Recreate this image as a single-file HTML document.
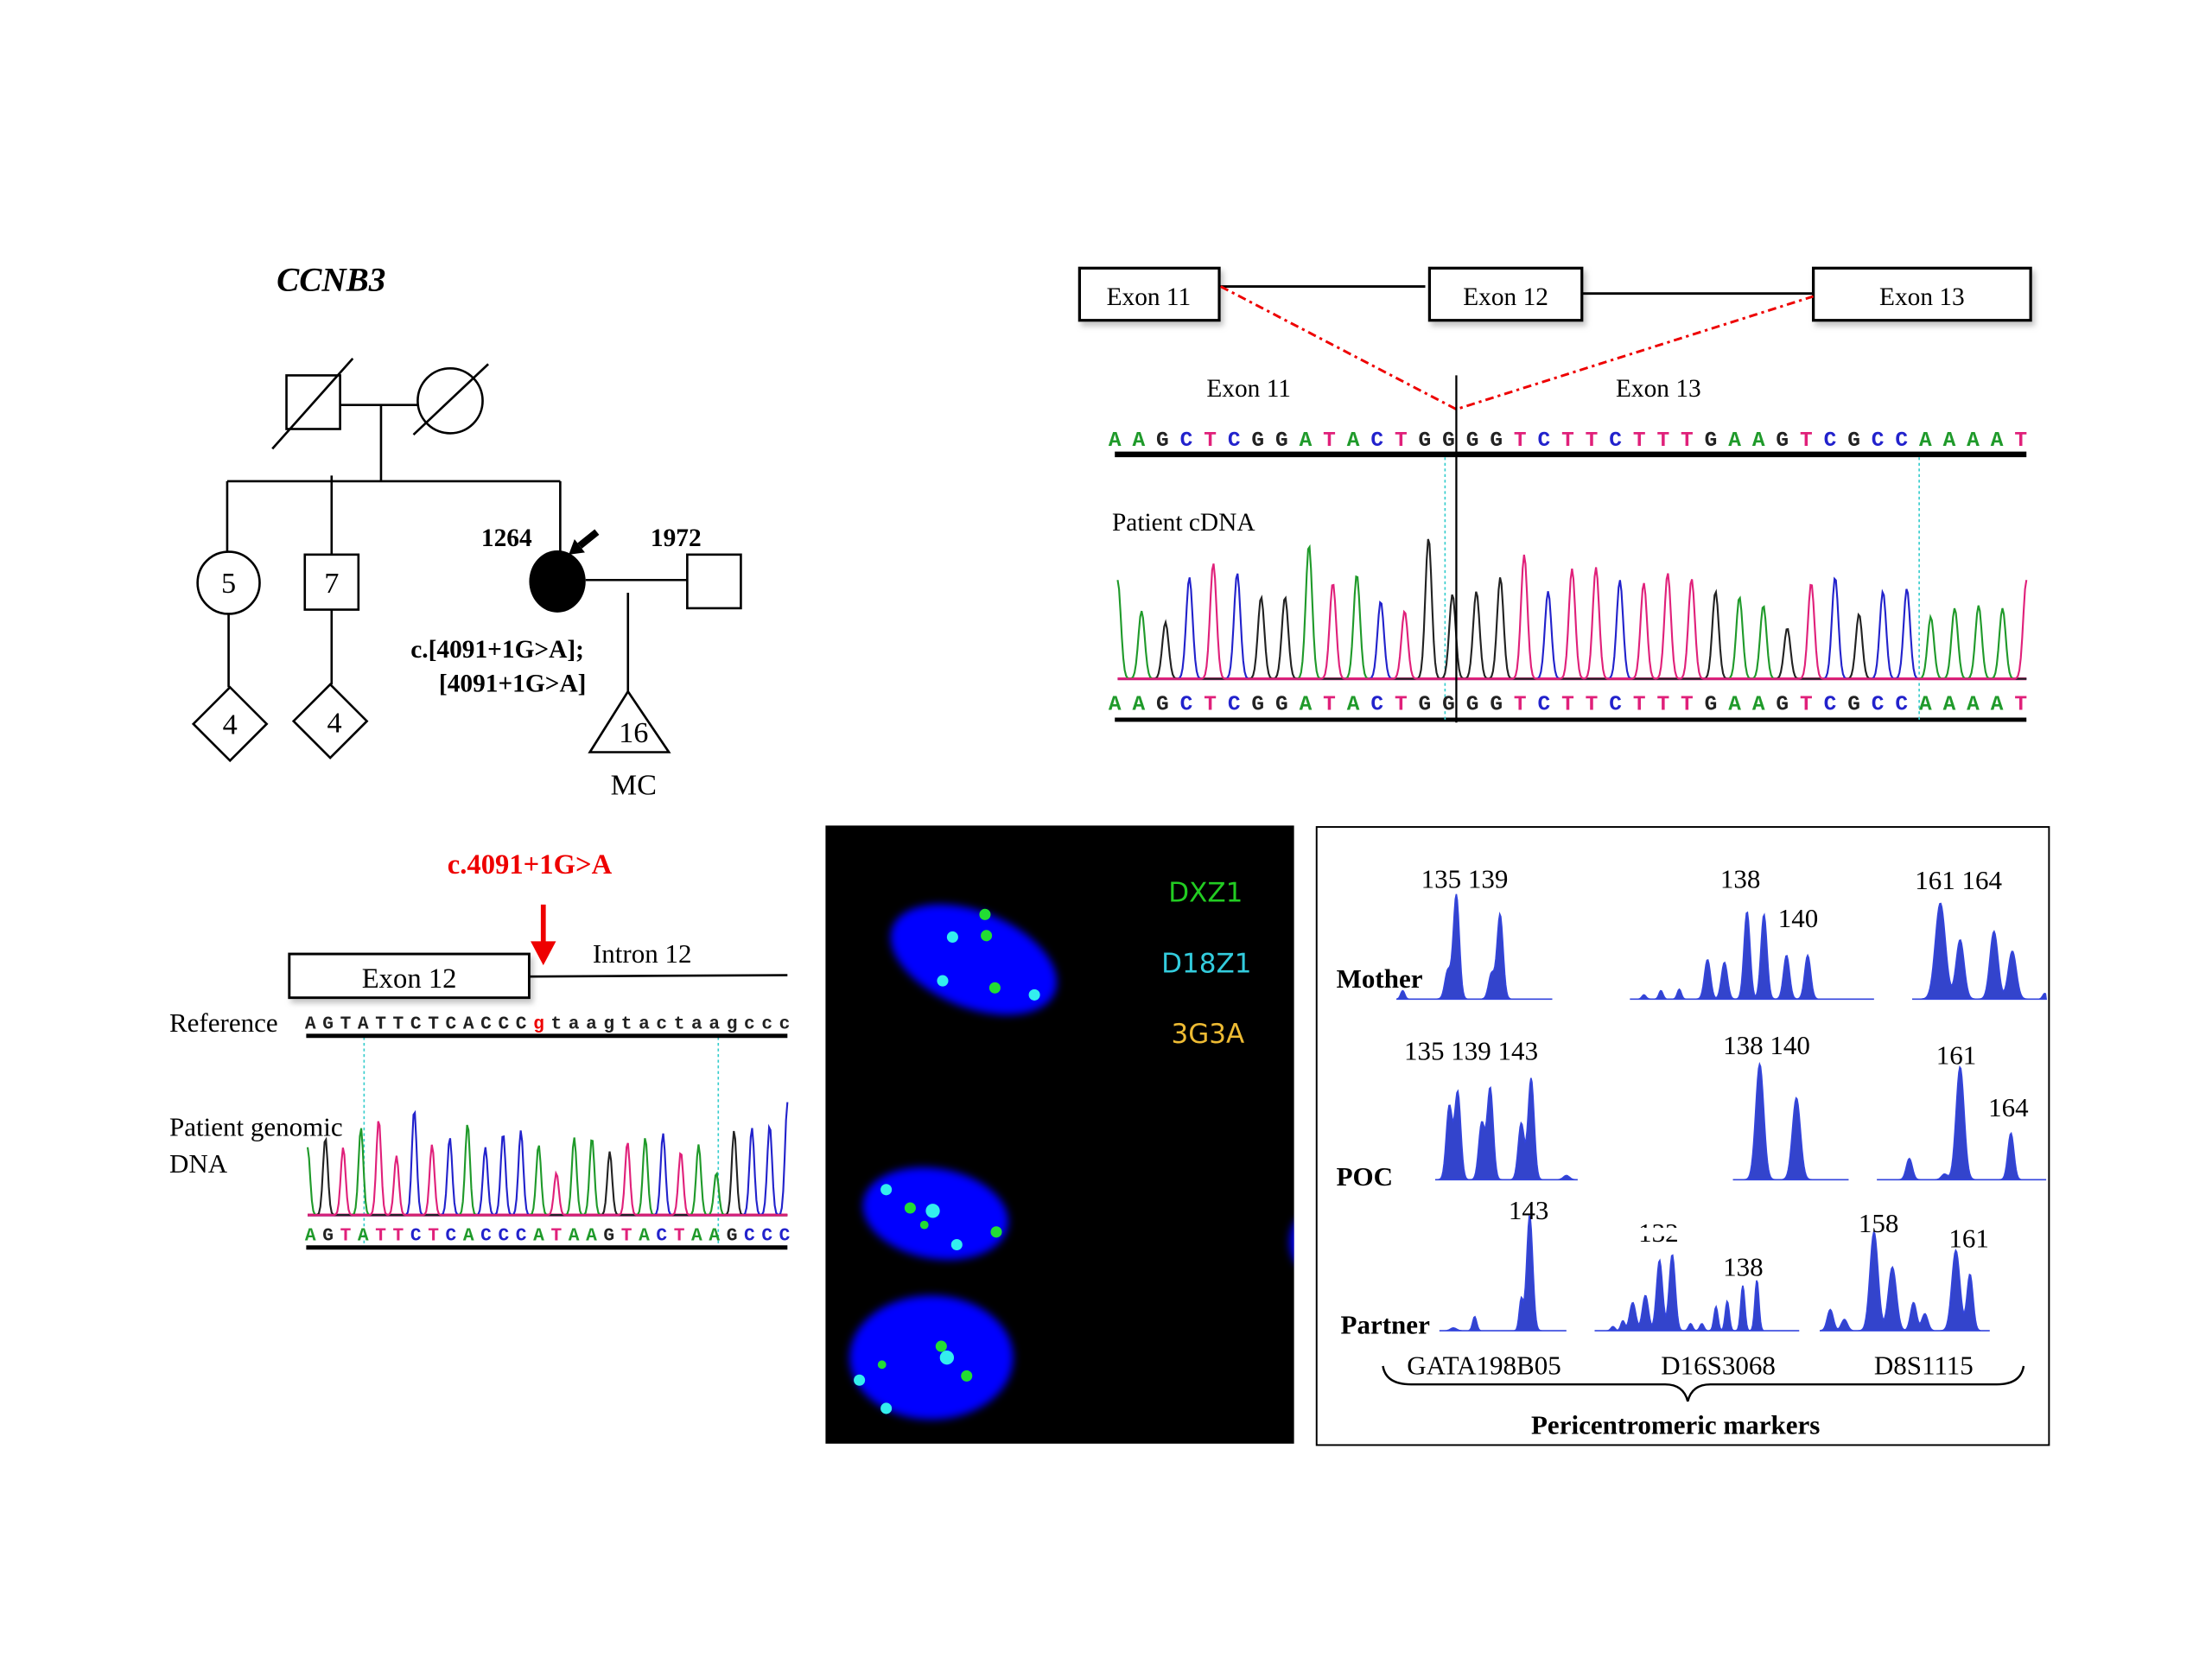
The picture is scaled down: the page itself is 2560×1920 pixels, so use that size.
<!DOCTYPE html>
<html><head><meta charset="utf-8"><style>
html,body{margin:0;padding:0;background:#fff;width:2560px;height:1920px;overflow:hidden}
svg{display:block}
text{font-family:"Liberation Serif",serif}
</style></head><body>
<svg id="s" width="2560" height="1920" viewBox="0 0 1567.5 1175.6" preserveAspectRatio="none" xmlns="http://www.w3.org/2000/svg">
<defs><filter id="bl" x="-30%" y="-30%" width="160%" height="160%"><feGaussianBlur stdDeviation="3"/></filter>
<filter id="sh" x="-10%" y="-10%" width="130%" height="150%"><feDropShadow dx="2" dy="3" stdDeviation="2" flood-color="#888" flood-opacity="0.5"/></filter>
<clipPath id="fc"><rect x="585" y="585" width="332" height="438"/></clipPath></defs>
<!-- Pedigree -->
<text x="196" y="206" font-size="24" font-weight="bold" font-style="italic">CCNB3</text>
<g stroke="#000" stroke-width="1.6" fill="none">
<rect x="203" y="266" width="38" height="38" fill="#fff"/>
<line x1="193" y1="318" x2="250" y2="254"/>
<circle cx="319" cy="284" r="23"/>
<line x1="293" y1="308" x2="346" y2="258"/>
<line x1="241" y1="287" x2="296" y2="287"/>
<line x1="270" y1="287" x2="270" y2="341"/>
<line x1="161" y1="341" x2="397" y2="341"/>
<line x1="161" y1="341" x2="161" y2="391"/>
<line x1="235" y1="337" x2="235" y2="393"/>
<line x1="397" y1="341" x2="397" y2="392"/>
<circle cx="162" cy="413" r="22"/>
<rect x="216" y="393" width="38" height="39"/>
<line x1="162" y1="435" x2="162" y2="487"/>
<line x1="235" y1="432" x2="235" y2="485"/>
<polygon points="163,487 189,513 163,539 137,513"/>
<polygon points="234,485 260,511 234,537 208,511"/>
<line x1="415" y1="411" x2="487" y2="411"/>
<rect x="487" y="393" width="38" height="38"/>
<line x1="445" y1="420" x2="445" y2="490"/>
<polygon points="445,490 474,533 418,533"/>
</g>
<ellipse cx="395" cy="412" rx="20" ry="22" fill="#000"/>
<polygon points="403,393 414.5,391.5 407.1,382.1" fill="#000"/>
<line x1="410.8" y1="386.8" x2="423" y2="377" stroke="#000" stroke-width="5"/>
<g font-size="21" text-anchor="middle">
<text x="162" y="420">5</text><text x="235" y="420">7</text>
<text x="163" y="520">4</text><text x="237" y="519">4</text>
<text x="449" y="526">16</text><text x="449" y="563">MC</text>
</g>
<g font-size="18" font-weight="bold">
<text x="341" y="387">1264</text><text x="461" y="387">1972</text>
<text x="291" y="466">c.[4091+1G&gt;A];</text><text x="311" y="490">[4091+1G&gt;A]</text>
</g>
<!-- Top right -->
<g stroke="#000" stroke-width="2" fill="#fff" filter="url(#sh)">
<rect x="765" y="190" width="99" height="37"/>
<rect x="1013" y="190" width="108" height="37"/>
<rect x="1285" y="190" width="154" height="37"/>
</g>
<g stroke="#000" stroke-width="1.8"><line x1="864" y1="203" x2="1010" y2="203"/><line x1="1121" y1="208" x2="1285" y2="208"/></g>
<g font-size="18" text-anchor="middle"><text x="814" y="216">Exon 11</text><text x="1067" y="216">Exon 12</text><text x="1362" y="216">Exon 13</text></g>
<polyline points="865,203 1032,290 1285,210" fill="none" stroke="#e00" stroke-width="1.8" stroke-dasharray="6,3,2,3"/>
<text x="855" y="281" font-size="18">Exon 11</text><text x="1145" y="281" font-size="18">Exon 13</text>
<text x="788" y="376" font-size="18">Patient  cDNA</text>
<line x1="790" y1="322" x2="1436" y2="322" stroke="#000" stroke-width="4"/>
<line x1="790" y1="510" x2="1436" y2="510" stroke="#000" stroke-width="3"/>
<g stroke="#3cc" stroke-width="1" stroke-dasharray="2,2"><line x1="1024" y1="324" x2="1024" y2="512"/><line x1="1360" y1="324" x2="1360" y2="510"/>
<line x1="258" y1="735" x2="258" y2="886"/><line x1="509" y1="735" x2="509" y2="886"/></g>
<g id="cdna"></g>
<line x1="1032" y1="266" x2="1032" y2="512" stroke="#000" stroke-width="1.4"/>
<!-- Bottom left -->
<text x="317" y="619" font-size="20" font-weight="bold" fill="#e00">c.4091+1G&gt;A</text>
<line x1="385" y1="641" x2="385" y2="675" stroke="#e00" stroke-width="3.5"/>
<polygon points="376,667 394,667 385,684" fill="#e00"/>
<rect x="205" y="676" width="170" height="31" fill="#fff" stroke="#000" stroke-width="1.8" filter="url(#sh)"/>
<text x="290" y="700" font-size="20" text-anchor="middle">Exon 12</text>
<line x1="375" y1="692" x2="558" y2="691" stroke="#000" stroke-width="1.6"/>
<text x="420" y="682" font-size="19">Intron 12</text>
<text x="120" y="731" font-size="19">Reference</text>
<text x="120" y="805" font-size="19">Patient  genomic</text>
<text x="120" y="831" font-size="19">DNA</text>
<line x1="217" y1="734" x2="558" y2="734" stroke="#000" stroke-width="3"/>
<line x1="217" y1="884" x2="558" y2="884" stroke="#000" stroke-width="3"/>
<g id="gdna"></g>
<!-- FISH -->
<rect x="585" y="585" width="332" height="438" fill="#000"/>
<g clip-path="url(#fc)">
<g fill="#0000ff" filter="url(#bl)">
<ellipse cx="690" cy="680" rx="62" ry="34" transform="rotate(22 690 680)"/>
<ellipse cx="663" cy="860" rx="52" ry="32" transform="rotate(10 663 860)"/>
<ellipse cx="660" cy="962" rx="58" ry="44"/>
<ellipse cx="924" cy="880" rx="10" ry="18"/>
</g></g>
<g fill="#22dd33"><circle cx="698" cy="648" r="4"/><circle cx="699" cy="663" r="4"/><circle cx="705" cy="700" r="4"/>
<circle cx="645" cy="856" r="4"/><circle cx="655" cy="868" r="3"/><circle cx="706" cy="873" r="4"/>
<circle cx="667" cy="954" r="4"/><circle cx="625" cy="967" r="3"/><circle cx="685" cy="975" r="4"/></g>
<g fill="#33eeee"><circle cx="675" cy="664" r="4"/><circle cx="668" cy="695" r="4"/><circle cx="733" cy="705" r="4"/>
<circle cx="628" cy="843" r="4"/><circle cx="661" cy="858" r="5"/><circle cx="678" cy="882" r="4"/>
<circle cx="671" cy="962" r="5"/><circle cx="609" cy="978" r="4"/><circle cx="628" cy="998" r="4"/></g>
<g font-size="19">
<text x="828" y="639" fill="#2c2" style="font-family:'DejaVu Sans',sans-serif">DXZ1</text>
<text x="823" y="689" fill="#3cd" style="font-family:'DejaVu Sans',sans-serif">D18Z1</text>
<text x="830" y="739" fill="#eb3" style="font-family:'DejaVu Sans',sans-serif">3G3A</text></g>
<!-- STR -->
<rect x="933" y="586" width="519" height="438" fill="none" stroke="#000" stroke-width="1.2"/>
<g id="str"></g>
<g font-size="19" font-weight="bold"><text x="947" y="700">Mother</text><text x="947" y="840">POC</text><text x="950" y="945">Partner</text>
<text x="1085" y="1016">Pericentromeric markers</text></g>
<g font-size="19">
<text x="1007" y="629">135 139</text><text x="1219" y="629">138</text><text x="1260" y="657">140</text><text x="1357" y="630">161  164</text>
<text x="995" y="751">135  139  143</text><text x="1221" y="747">138   140</text><text x="1372" y="754">161</text><text x="1409" y="791">164</text>
<text x="1069" y="864">143</text><text x="1161" y="880">132</text><text x="1221" y="904">138</text><text x="1317" y="873">158</text><text x="1381" y="884">161</text>
<text x="997" y="974">GATA198B05</text><text x="1177" y="974">D16S3068</text><text x="1328" y="974">D8S1115</text></g>
<rect x="1160" y="870" width="40" height="6" fill="#fff"/>
<path d="M980,968 Q982,981 1000,981 L1180,981 Q1193,981 1196,993 Q1199,981 1212,981 L1415,981 Q1432,981 1434,968" fill="none" stroke="#000" stroke-width="1.5"/>
</svg>
<script>
var NS="http://www.w3.org/2000/svg";
function el(p,t,a,txt){var e=document.createElementNS(NS,t);for(var k in a)e.setAttribute(k,a[k]);if(txt)e.textContent=txt;p.appendChild(e);return e;}
var col={A:"#1f9a2a",C:"#2222cc",G:"#222",T:"#e0207a",a:"#222",c:"#222",g:"#222",t:"#222"};
function seq(g,s,x0,x1,y,fs,cols){var d=(x1-x0)/(s.length-1);for(var i=0;i<s.length;i++){el(g,"text",{x:x0+i*d,y:y,"font-size":fs,"text-anchor":"middle",fill:cols?cols(i,s[i]):col[s[i]],style:"font-family:'Liberation Mono',monospace;font-weight:bold"},s[i]);}}
function traces(g,s,x0,x1,base,hs,w){var d=(x1-x0)/(s.length-1);var bases="ACGT";
el(g,"line",{x1:x0,y1:base,x2:x1,y2:base,stroke:"#e0207a","stroke-width":2});
for(var b=0;b<4;b++){var B=bases[b];var pts=[];for(var x=x0;x<=x1;x+=1){var y=0;for(var i=0;i<s.length;i++){if(s[i].toUpperCase()!=B)continue;var px=x0+i*d;var dx=(x-px)/w;y+=hs[i%hs.length]*Math.exp(-dx*dx);}pts.push(x.toFixed(1)+","+(base-y).toFixed(1));}
el(g,"polyline",{points:pts.join(" "),fill:"none",stroke:col[B],"stroke-width":1.3});}}
var s1="AAGCTCGGATACTGGGGTCTTCTTTGAAGTCGCCAAAAT";
var g1=document.getElementById("cdna");
seq(g1,s1,790,1432,316,15);seq(g1,s1,790,1432,503,15);
var h1=[70,48,40,72,82,75,58,58,95,68,74,55,48,100,60,62,72,88,62,78,79,70,68,75,71,62,58,52,36,68,72,46,62,64,44,50,52,50,70];
traces(g1,s1,792,1436,481,h1,3.2);
var s2="AGTATTCTCACCCgtaagtactaagccc", s3="AGTATTCTCACCCATAAGTACTAAGCCC";
var g2=document.getElementById("gdna");
seq(g2,s2,220,556,729,13,function(i,c){return i==13?"#e00":"#222";});
seq(g2,s3,220,556,879,13);
var h2=[48,55,48,62,68,42,75,50,55,65,48,58,60,50,30,55,55,45,52,55,58,45,50,30,60,62,64,80,70,75];
traces(g2,s3,218,558,861,h2,2.4);
var g3=document.getElementById("str");
function str(x0,x1,base,pk){var pts=[];for(var x=x0;x<=x1;x+=0.7){var y=0;for(var i=0;i<pk.length;i++){var dx=(x-pk[i][0])/pk[i][2];y+=pk[i][1]*Math.exp(-dx*dx);}pts.push(x.toFixed(1)+","+(base-y).toFixed(1));}
el(g3,"polygon",{points:x0+","+base+" "+pts.join(" ")+" "+x1+","+base,fill:"#3344cc",stroke:"#3344dd","stroke-width":1});}
str(990,1100,708,[[994,6,2],[1026,20,3],[1032,74,3],[1057,18,3],[1063,60,3]]);
str(1155,1328,708,[[1165,3,2],[1177,6,2],[1190,7,2],[1210,28,3],[1222,26,3],[1238,62,3],[1250,60,3],[1266,31,3],[1281,31,3]]);
str(1355,1450,708,[[1375,68,5],[1389,42,4],[1413,48,4],[1426,34,4],[1449,4,2]]);
str(1017,1118,836,[[1027,52,3],[1033,62,3],[1050,40,3],[1056,65,3],[1078,40,3],[1085,72,3],[1110,3,3]]);
str(1228,1310,836,[[1247,82,4],[1273,58,4]]);
str(1330,1450,836,[[1353,15,3],[1378,4,3],[1389,80,4],[1425,33,3]]);
str(1020,1110,943,[[1030,2,3],[1045,10,2],[1078,22,2],[1084,82,3]]);
str(1130,1275,943,[[1143,3,2],[1150,7,2],[1157,20,3],[1166,25,3],[1176,50,3],[1185,54,3],[1198,5,2],[1206,5,2],[1216,17,2],[1224,21,2],[1235,32,2],[1245,36,2]]);
str(1290,1410,943,[[1297,15,3],[1307,8,3],[1328,70,4],[1341,45,4],[1356,20,3],[1364,12,3],[1386,57,4],[1396,40,3]]);
</script>
</body></html>
